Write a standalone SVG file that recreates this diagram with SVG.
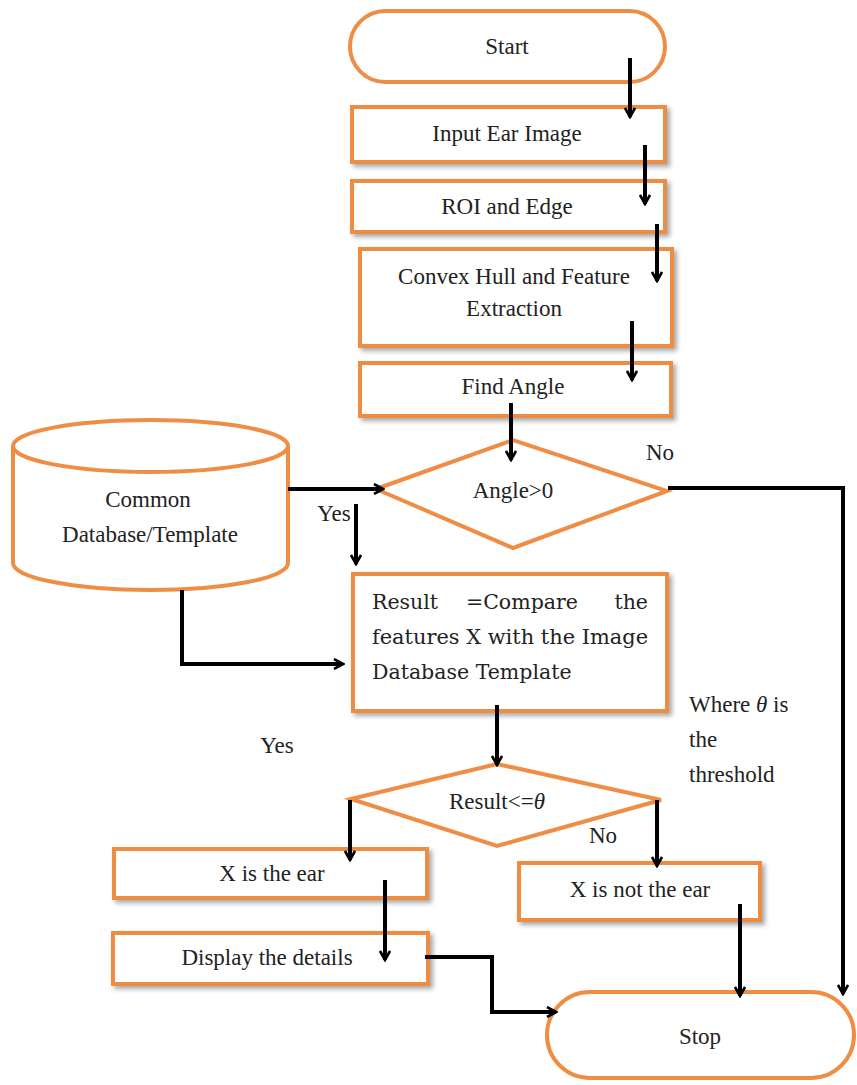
<svg xmlns="http://www.w3.org/2000/svg" width="857" height="1085" viewBox="0 0 857 1085">
<defs>
<marker id="ah" viewBox="0 0 12 12" refX="10" refY="6" markerWidth="12" markerHeight="12" markerUnits="userSpaceOnUse" orient="auto">
<path d="M1,1 L10,6 L1,11" fill="none" stroke="#000" stroke-width="2.6"/>
</marker>
<filter id="sh" x="-5%" y="-10%" width="115%" height="130%">
<feGaussianBlur in="SourceAlpha" stdDeviation="2.5"/>
<feOffset dx="3" dy="3" result="b"/>
<feComponentTransfer><feFuncA type="linear" slope="0.35"/></feComponentTransfer>
<feMerge><feMergeNode/><feMergeNode in="SourceGraphic"/></feMerge>
</filter>
</defs>
<style>
.n{fill:#fff;stroke:#EE8D43;stroke-width:4}
.t{font-family:"Liberation Serif","Times New Roman",serif;font-size:23px;fill:#222;text-anchor:middle}
.l{font-family:"Liberation Serif","Times New Roman",serif;font-size:23px;fill:#222;text-anchor:start}
.c{font-family:"DejaVu Serif","Liberation Serif",serif;font-size:20.5px;fill:#222}
.e{fill:none;stroke:#000;stroke-width:4}
.a{marker-end:url(#ah)}
</style>
<rect width="857" height="1085" fill="#fff"/>
<g id="start"><rect class="n" x="350" y="11" width="315" height="71" rx="35.5"/><text class="t" x="507" y="54">Start</text></g>
<g id="input"><rect class="n" x="352" y="107" width="313" height="55" filter="url(#sh)"/><text class="t" x="507" y="141">Input Ear Image</text></g>
<g id="roi"><rect class="n" x="352" y="181" width="313" height="51" filter="url(#sh)"/><text class="t" x="507" y="214">ROI and Edge</text></g>
<g id="convex"><rect class="n" x="360" y="249" width="312" height="97" filter="url(#sh)"/><text class="t" x="514" y="284">Convex Hull and Feature</text><text class="t" x="514" y="316">Extraction</text></g>
<g id="findangle"><rect class="n" x="360" y="363" width="311" height="53" filter="url(#sh)"/><text class="t" x="513" y="394">Find Angle</text></g>
<g id="angle"><polygon class="n" points="376,489 513,440 667,491 513,548"/><text class="t" x="513" y="498">Angle&gt;0</text></g>
<g id="db"><path class="n" d="M13,446 L13,563 A137.5,27 0 0 0 288,563 L288,446 A137.5,26 0 0 0 13,446 A137.5,26 0 0 0 288,446"/><text class="t" x="148" y="507">Common</text><text class="t" x="150" y="542">Database/Template</text></g>
<g id="compare"><rect class="n" x="353" y="574" width="314" height="137" filter="url(#sh)"/>
<text class="c" y="609"><tspan x="372">Result</tspan><tspan x="466">=Compare</tspan><tspan x="648" text-anchor="end">the</tspan></text>
<text class="c" x="372" y="644" textLength="276" lengthAdjust="spacingAndGlyphs">features X with the Image</text>
<text class="c" x="372" y="679">Database Template</text></g>
<g id="result"><polygon class="n" points="351,799 497,764 661,800 497,846"/><text class="t" x="497" y="809">Result&lt;=<tspan font-style="italic">θ</tspan></text></g>
<g id="isear"><rect class="n" x="114" y="849" width="313" height="49" filter="url(#sh)"/><text class="t" x="272" y="881">X is the ear</text></g>
<g id="notear"><rect class="n" x="519" y="863" width="241" height="57" filter="url(#sh)"/><text class="t" x="640" y="897">X is not the ear</text></g>
<g id="display"><rect class="n" x="113" y="933" width="315" height="51" filter="url(#sh)"/><text class="t" x="267" y="965">Display the details</text></g>
<g id="stop"><rect class="n" x="547" y="992" width="307" height="86" rx="43"/><text class="t" x="700" y="1044">Stop</text></g>
<g id="labels">
<text class="t" x="660" y="460">No</text>
<text class="t" x="334" y="521">Yes</text>
<text class="t" x="277" y="753">Yes</text>
<text class="t" x="603" y="843">No</text>
<text class="l" x="689" y="712">Where <tspan font-style="italic">θ</tspan> is</text>
<text class="l" x="689" y="747">the</text>
<text class="l" x="689" y="782">threshold</text>
</g>
<g id="connectors">
<path class="e a" d="M630,58 V117"/>
<path class="e a" d="M645,145 V204"/>
<path class="e a" d="M657,224 V281"/>
<path class="e a" d="M632,321 V380"/>
<path class="e a" d="M511,403 V460"/>
<path class="e a" d="M288,489 H383"/>
<path class="e a" d="M356,504 V564"/>
<path class="e a" d="M182,590 V664 H343"/>
<path class="e a" d="M668,488 H843 V994"/>
<path class="e a" d="M497,705 V765"/>
<path class="e a" d="M350,800 V860"/>
<path class="e a" d="M657,800 V866"/>
<path class="e a" d="M385,880 V960"/>
<path class="e a" d="M740,904 V996"/>
<path class="e a" d="M425,957 H492 V1012 H556"/>
</g>
</svg>
